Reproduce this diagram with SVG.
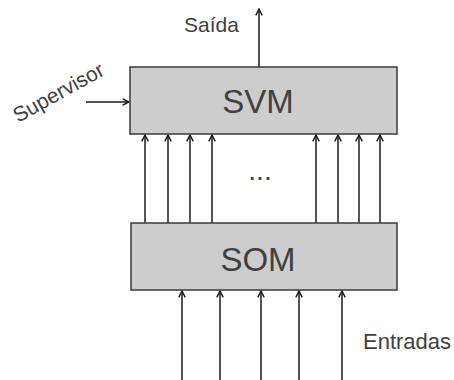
<svg xmlns="http://www.w3.org/2000/svg" width="454" height="380" viewBox="0 0 454 380">
  <style>
    .box { fill: #cdcdcd; stroke: #3a3a3a; stroke-width: 1.5; }
    .lbl { font-family: "Liberation Sans", Arial, sans-serif; fill: #404040; }
    .big { font-size: 33px; text-anchor: middle; }
    .small { font-size: 21px; }
    .entr { font-size: 22px; }
    .dots { font-size: 28px; text-anchor: middle; }
    .wire { stroke: #1a1a1a; stroke-width: 1.5; fill: none; marker-end: url(#head); }
  </style>
  <defs>
    <marker id="head" viewBox="0 0 10 10" refX="9" refY="5" markerWidth="8" markerHeight="8" markerUnits="userSpaceOnUse" orient="auto">
      <path d="M1,1 L9,5 L1,9" fill="none" stroke="#1a1a1a" stroke-width="1.8"/>
    </marker>
  </defs>
  <rect width="454" height="380" fill="#ffffff"/>

  <g id="connectors">
    <!-- output of SVM -->
    <line class="wire" x1="259" y1="67" x2="259" y2="9"/>
    <!-- supervisor signal -->
    <line class="wire" x1="86" y1="102" x2="129" y2="102"/>
    <!-- SOM to SVM, left group -->
    <line class="wire" x1="145" y1="223" x2="145" y2="135"/>
    <line class="wire" x1="168" y1="223" x2="168" y2="135"/>
    <line class="wire" x1="190" y1="223" x2="190" y2="135"/>
    <line class="wire" x1="212" y1="223" x2="212" y2="135"/>
    <!-- SOM to SVM, right group -->
    <line class="wire" x1="316" y1="223" x2="316" y2="135"/>
    <line class="wire" x1="338" y1="223" x2="338" y2="135"/>
    <line class="wire" x1="359" y1="223" x2="359" y2="135"/>
    <line class="wire" x1="380" y1="223" x2="380" y2="135"/>
    <!-- inputs into SOM -->
    <line class="wire" x1="182" y1="380" x2="182" y2="291"/>
    <line class="wire" x1="220" y1="380" x2="220" y2="291"/>
    <line class="wire" x1="261" y1="380" x2="261" y2="291"/>
    <line class="wire" x1="299" y1="380" x2="299" y2="291"/>
    <line class="wire" x1="342" y1="380" x2="342" y2="291"/>
  </g>

  <g id="svm">
    <rect class="box" x="130" y="67" width="267" height="67"/>
    <text class="lbl big" x="258" y="113">SVM</text>
  </g>

  <g id="som">
    <rect class="box" x="131" y="223" width="266" height="67"/>
    <text class="lbl big" x="258" y="271">SOM</text>
  </g>

  <g id="labels">
    <text class="lbl small" x="184" y="32">Saída</text>
    <text class="lbl small" x="18" y="123" transform="rotate(-29 18 123)">Supervisor</text>
    <text class="lbl entr" x="363" y="349">Entradas</text>
    <text class="lbl dots" x="260" y="180">...</text>
  </g>
</svg>
